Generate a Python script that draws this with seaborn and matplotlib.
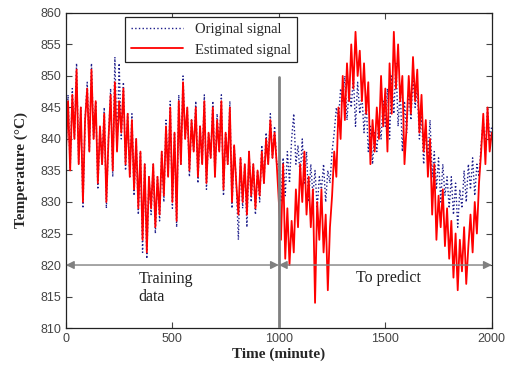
import numpy as np
import pandas as pd
import seaborn as sns
from matplotlib import pyplot as plt

# ---- data, one value every 10 minutes ----
time_min = list(range(0, 2001, 10))

estimated = [
    838, 846, 835, 847, 840, 851, 836, 845, 830, 843,
    848, 838, 851, 840, 846, 833, 842, 836, 844, 830,
    840, 847, 835, 849, 838, 846, 841, 848, 836, 844,
    834, 843, 832, 840, 829, 838, 824, 836, 822, 834,
    829, 836, 826, 834, 828, 838, 831, 842, 834, 845,
    830, 841, 827, 846, 836, 849, 840, 845, 835, 843,
    838, 845, 834, 842, 836, 846, 833, 841, 837, 845,
    834, 843, 838, 846, 832, 841, 836, 845, 830, 839,
    833, 828, 837, 830, 836, 828, 838, 831, 836, 829,
    835, 831, 838, 833, 840, 836, 843, 837, 841, 836,
    830, 824, 836, 821, 829, 820, 827, 822, 832, 826,
    836, 830, 838, 828, 834, 826, 832, 814, 830, 824,
    832, 822, 828, 816, 826, 831, 838, 834, 845, 840,
    850, 843, 852, 846, 855, 848, 857, 850, 854, 846,
    852, 844, 849, 836, 843, 838, 845, 840, 850, 842,
    848, 838, 852, 844, 857, 848, 855, 846, 850, 836,
    842, 850, 844, 853, 846, 851, 841, 847, 838, 843,
    834, 840, 828, 836, 824, 831, 826, 832, 823, 829,
    821, 827, 818, 825, 816, 824, 819, 826, 817, 823,
    828, 822, 830, 825, 833, 838, 844, 836, 845, 838,
    841,
]

original = [
    838, 847, 835, 848, 840, 852, 836, 845, 829, 843,
    849, 838, 852, 840, 846, 832, 842, 836, 845, 829,
    840, 848, 834, 853, 838, 852, 840, 849, 835, 844,
    834, 844, 831, 840, 828, 838, 822, 836, 821, 834,
    828, 836, 825, 834, 827, 838, 830, 843, 834, 846,
    829, 841, 826, 847, 836, 850, 840, 845, 834, 843,
    838, 846, 833, 842, 836, 847, 832, 841, 837, 846,
    834, 844, 838, 847, 831, 841, 836, 846, 829, 839,
    833, 824, 837, 829, 836, 826, 838, 830, 836, 828,
    835, 830, 839, 833, 841, 836, 844, 837, 842, 836,
    836, 830, 837, 831, 838, 833, 840, 844, 836, 839,
    834, 840, 833, 838, 830, 836, 831, 835, 829, 834,
    832, 836, 830, 835, 833, 838, 841, 845, 843, 848,
    846, 850, 843, 848, 845, 850, 842, 849, 844, 847,
    841, 846, 838, 842, 836, 841, 838, 843, 840, 846,
    842, 848, 840, 850, 844, 852, 842, 848, 838, 846,
    841, 848, 843, 850, 845, 848, 840, 844, 836, 842,
    837, 843, 834, 838, 832, 837, 830, 836, 831, 834,
    829, 834, 828, 833, 826, 832, 829, 835, 830, 836,
    832, 837, 831, 836, 834, 839, 843, 838, 845, 840,
    842,
]

x_ticks = [0, 500, 1000, 1500, 2000]
y_ticks = [810, 815, 820, 825, 830, 835, 840, 845, 850, 855, 860]

df = pd.DataFrame({"time": time_min, "original": original, "estimated": estimated})

# ---- style ----
sns.set_style("ticks")
plt.rc('font', family=['Liberation Sans', 'DejaVu Sans'])

fig = plt.figure(figsize=(5.07, 3.69), dpi=100)
ax = fig.add_axes([0.130, 0.111, 0.840, 0.854])

sns.lineplot(data=df, x="time", y="original", ax=ax, color="#1c1c8a",
             linestyle=":", linewidth=1.0, label="Original signal")
sns.lineplot(data=df, x="time", y="estimated", ax=ax, color="#ff0000",
             linewidth=1.3, label="Estimated signal")

ax.set_xlim(0, 2000)
ax.set_ylim(810, 860)
ax.set_xticks(x_ticks)
ax.set_yticks(y_ticks)
ax.tick_params(direction="in", length=4, width=0.8, top=True, right=True,
               labelsize=9, labelcolor="#444444", color="#444444")
for s in ax.spines.values():
    s.set_linewidth(0.9)
    s.set_color("#222222")

serif = ['Liberation Serif', 'DejaVu Serif']
ax.set_xlabel("Time (minute)", family=serif, fontweight="bold", fontsize=11, labelpad=2)
ax.set_ylabel("Temperature (°C)", family=serif, fontweight="bold", fontsize=11, labelpad=9)

# split line and range arrows
ax.plot([1000, 1000], [810, 849.8], color="#808080", linewidth=2.0, zorder=5)
arrow = dict(arrowstyle="<|-|>", color="#808080", lw=1.0, mutation_scale=12,
             shrinkA=0, shrinkB=0)
ax.annotate("", xy=(0, 820), xytext=(1000, 820), arrowprops=arrow, zorder=6)
ax.annotate("", xy=(1000, 820), xytext=(2000, 820), arrowprops=arrow, zorder=6)
ax.text(340, 816.4, "Training\ndata", family=serif, fontsize=11.5, ha="left",
        va="center", linespacing=1.2, color="#222222")
ax.text(1515, 817.9, "To predict", family=serif, fontsize=11.5, ha="center",
        va="center", color="#222222")

leg = ax.legend(loc="upper left", bbox_to_anchor=(0.138, 0.987), borderaxespad=0,
                frameon=True, fancybox=False, handlelength=3.6,
                prop={'family': serif, 'size': 10.5}, labelspacing=0.5)
leg.get_frame().set_edgecolor("#222222")
leg.get_frame().set_linewidth(0.9)
leg.get_frame().set_alpha(1)

plt.savefig("out.png", dpi=100)
